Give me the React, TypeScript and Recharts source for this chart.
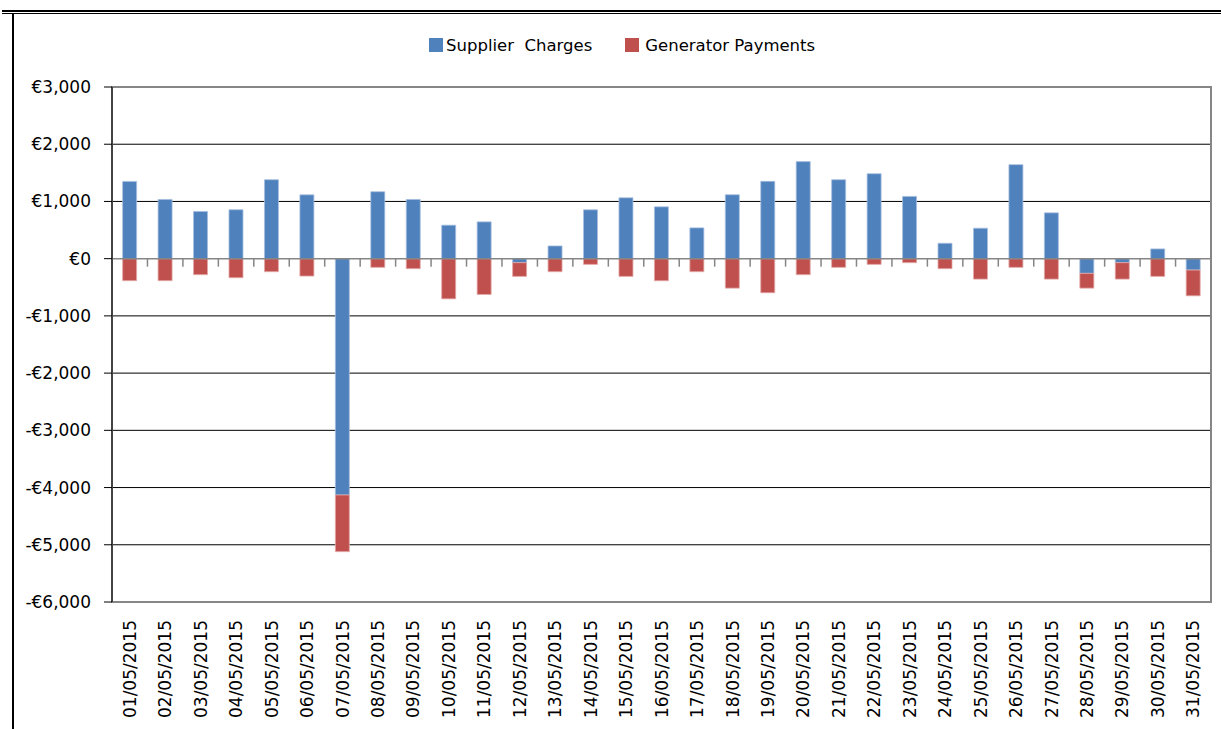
import React from "react";
import { BarChart, Bar, XAxis, YAxis, CartesianGrid, Legend, ReferenceLine, ReferenceArea } from "recharts";

const dates = [
  "01/05/2015", "02/05/2015", "03/05/2015", "04/05/2015", "05/05/2015", "06/05/2015", "07/05/2015",
  "08/05/2015", "09/05/2015", "10/05/2015", "11/05/2015", "12/05/2015", "13/05/2015", "14/05/2015",
  "15/05/2015", "16/05/2015", "17/05/2015", "18/05/2015", "19/05/2015", "20/05/2015", "21/05/2015",
  "22/05/2015", "23/05/2015", "24/05/2015", "25/05/2015", "26/05/2015", "27/05/2015", "28/05/2015",
  "29/05/2015", "30/05/2015", "31/05/2015",
];

const supplierCharges = [
  1350, 1035, 825, 855, 1380, 1115, -4130, 1170, 1035, 585, 643, -70, 222, 854, 1064, 906,
  538, 1117, 1351, 1696, 1380, 1485, 1088, 269, 532, 1643, 801, -257, -70, 170, -199,
];

const generatorPayments = [
  -385, -385, -280, -333, -228, -304, -990, -152, -175, -702, -626, -240, -228, -100, -310, -386,
  -228, -515, -596, -280, -152, -100, -70, -175, -357, -152, -357, -258, -287, -310, -450,
];

const yTicks = [3000, 2000, 1000, 0, -1000, -2000, -3000, -4000, -5000, -6000];
const yDomain = [-6000, 3000];
// black gridlines: everything except the plot border and the zero axis
const gridValues = yTicks.filter((v) => v !== 3000 && v !== -6000 && v !== 0);

const data = dates.map((date, i) => ({
  date,
  supplier: supplierCharges[i],
  generator: generatorPayments[i],
}));

const BLUE = "#4F81BD";
const RED = "#C0504D";
const GREY = "#868686";
const FONT = "'DejaVu Sans', sans-serif";

const euro = (v: number) =>
  v < 0 ? `-€${Math.abs(v).toLocaleString("en-GB")}` : `€${v.toLocaleString("en-GB")}`;

const gridCoords = ({ yAxis, offset }: any) => {
  if (yAxis && typeof yAxis.scale === "function") return gridValues.map((v) => yAxis.scale(v));
  const [lo, hi] = yDomain;
  return gridValues.map((v) => offset.top + ((hi - v) / (hi - lo)) * offset.height);
};

const DateTick = ({ x, y, payload }: any) => (
  <text
    x={x}
    y={y + 10}
    transform={`rotate(-90 ${x} ${y + 10})`}
    textAnchor="end"
    dy="0.36em"
    fontSize={17}
    fill="#000"
  >
    {payload.value}
  </text>
);

// zero axis line with Excel-style ticks between categories
const ZeroLine = (p: any) => {
  const { x1, x2, y1 } = p;
  const n = dates.length;
  const step = (x2 - x1) / n;
  const ticks = [];
  for (let i = 1; i < n; i++) {
    const tx = x1 + i * step;
    ticks.push(<line key={i} x1={tx} x2={tx} y1={y1} y2={y1 + 8} stroke={GREY} strokeWidth={1.5} />);
  }
  return (
    <g>
      <line x1={x1} x2={x2} y1={y1} y2={y1} stroke={GREY} strokeWidth={1.5} />
      {ticks}
    </g>
  );
};

const LegendBox = () => (
  <div style={{ display: "flex", alignItems: "center", height: 30, fontSize: 16.5, color: "#000" }}>
    <span style={{ width: 14, height: 14, background: BLUE, display: "inline-block", marginRight: 3 }} />
    <span style={{ marginRight: 33 }}>Supplier&nbsp; Charges</span>
    <span style={{ width: 14, height: 14, background: RED, display: "inline-block", marginRight: 6 }} />
    <span>Generator Payments</span>
  </div>
);

export default function App() {
  return (
    <div style={{ position: "absolute", left: 0, top: 0, width: 1221, height: 729, background: "#fff", fontFamily: FONT }}>
      <div style={{ position: "absolute", left: 2, right: 0, top: 10, height: 2, background: "#000" }} />
      <div style={{ position: "absolute", left: 2, right: 0, top: 13, height: 1, background: "#000" }} />
      <div style={{ position: "absolute", left: 12, top: 13, bottom: 0, width: 2, background: "#000" }} />
      <BarChart
        width={1221}
        height={729}
        data={data}
        stackOffset="sign"
        barCategoryGap="30%"
        margin={{ top: 57, right: 10, bottom: 0, left: 0 }}
      >
        <CartesianGrid vertical={false} stroke="#000" strokeWidth={1} horizontalCoordinatesGenerator={gridCoords} />
        <ReferenceArea y1={-6000} y2={3000} fill="none" stroke={GREY} strokeWidth={2} fillOpacity={0} />
        <Legend
          verticalAlign="top"
          content={() => <LegendBox />}
          wrapperStyle={{ top: 30, left: 429, width: "auto" }}
        />
        <XAxis
          dataKey="date"
          interval={0}
          height={127}
          tickLine={false}
          axisLine={{ stroke: GREY, strokeWidth: 2 }}
          tick={<DateTick />}
        />
        <YAxis
          domain={yDomain}
          ticks={yTicks}
          interval={0}
          width={112}
          tickFormatter={euro}
          tickSize={8}
          tickMargin={13}
          axisLine={{ stroke: "#000" }}
          tickLine={{ stroke: "#000" }}
          tick={{ fill: "#000", fontSize: 17 }}
        />
        <Bar dataKey="supplier" name="Supplier Charges" stackId="a" fill={BLUE} stroke="#A7BFE0" strokeWidth={0.8} isAnimationActive={false} />
        <Bar dataKey="generator" name="Generator Payments" stackId="a" fill={RED} stroke="#E3AAA8" strokeWidth={0.8} isAnimationActive={false} />
        <ReferenceLine y={0} shape={<ZeroLine />} />
      </BarChart>
    </div>
  );
}
